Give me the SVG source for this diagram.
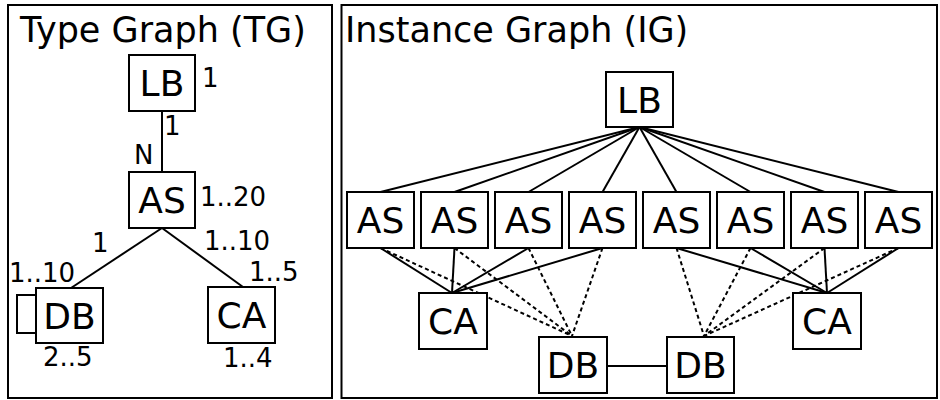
<svg xmlns="http://www.w3.org/2000/svg" width="940" height="400" viewBox="0 0 940 400">
<style>
text{font-family:"DejaVu Sans",sans-serif;fill:#000}
.title{font-size:35px}
.lbl{font-size:36px;text-anchor:middle}
.m{font-size:26px}
.box{fill:#fff;stroke:#000;stroke-width:2}
.panel{fill:#fff;stroke:#000;stroke-width:2}
.e{stroke:#000;stroke-width:2;fill:none}
.d{stroke:#000;stroke-width:2;fill:none;stroke-dasharray:4 3}
</style>
<rect class="panel" x="8" y="5" width="324" height="393"/>
<rect class="panel" x="341.5" y="5" width="595.5" height="393"/>
<text class="title" x="20" y="42">Type Graph (TG)</text>
<text class="title" x="345" y="42">Instance Graph (IG)</text>
<g id="connectors">
<line class="e" x1="162" y1="111" x2="162" y2="172"/>
<line class="e" x1="162" y1="228" x2="71" y2="288"/>
<line class="e" x1="162" y1="228" x2="243" y2="287"/>
<polyline class="e" points="36,295 17,295 17,333 36,333"/>
<line class="e" x1="639.5" y1="127" x2="380.5" y2="192"/>
<line class="e" x1="639.5" y1="127" x2="454.5" y2="192"/>
<line class="e" x1="639.5" y1="127" x2="528.5" y2="192"/>
<line class="e" x1="639.5" y1="127" x2="602.5" y2="192"/>
<line class="e" x1="639.5" y1="127" x2="676.5" y2="192"/>
<line class="e" x1="639.5" y1="127" x2="750.5" y2="192"/>
<line class="e" x1="639.5" y1="127" x2="824.5" y2="192"/>
<line class="e" x1="639.5" y1="127" x2="898.5" y2="192"/>
<line class="e" x1="380.5" y1="248" x2="452" y2="293"/>
<line class="e" x1="454.5" y1="248" x2="452" y2="293"/>
<line class="e" x1="528.5" y1="248" x2="452" y2="293"/>
<line class="e" x1="602.5" y1="248" x2="452" y2="293"/>
<line class="d" x1="380.5" y1="248" x2="572" y2="336"/>
<line class="d" x1="454.5" y1="248" x2="572" y2="336"/>
<line class="d" x1="528.5" y1="248" x2="572" y2="336"/>
<line class="d" x1="602.5" y1="248" x2="572" y2="336"/>
<line class="e" x1="676.5" y1="248" x2="827" y2="293"/>
<line class="e" x1="750.5" y1="248" x2="827" y2="293"/>
<line class="e" x1="824.5" y1="248" x2="827" y2="293"/>
<line class="e" x1="898.5" y1="248" x2="827" y2="293"/>
<line class="d" x1="676.5" y1="248" x2="704" y2="336"/>
<line class="d" x1="750.5" y1="248" x2="704" y2="336"/>
<line class="d" x1="824.5" y1="248" x2="704" y2="336"/>
<line class="d" x1="898.5" y1="248" x2="704" y2="336"/>
<line class="e" x1="607" y1="366" x2="667" y2="366"/>
</g>
<g id="tg-lb"><rect class="box" x="129" y="55" width="66" height="56"/><text class="lbl" x="162" y="96">LB</text></g>
<g id="tg-as"><rect class="box" x="129" y="172" width="66" height="56"/><text class="lbl" x="162" y="213">AS</text></g>
<g id="tg-db"><rect class="box" x="36" y="288" width="67" height="55"/><text class="lbl" x="69.5" y="329">DB</text></g>
<g id="tg-ca"><rect class="box" x="208" y="287" width="67" height="56"/><text class="lbl" x="241.5" y="328">CA</text></g>
<g id="tg-labels">
<text class="m" x="202" y="87">1</text>
<text class="m" x="164" y="135">1</text>
<text class="m" x="134" y="164">N</text>
<text class="m" x="200" y="206">1..20</text>
<text class="m" x="92" y="252">1</text>
<text class="m" x="204" y="250">1..10</text>
<text class="m" x="9" y="282">1..10</text>
<text class="m" x="249" y="281">1..5</text>
<text class="m" x="43" y="366">2..5</text>
<text class="m" x="223" y="367">1..4</text>
</g>
<g id="ig-lb"><rect class="box" x="606" y="72" width="67" height="55"/><text class="lbl" x="639.5" y="113">LB</text></g>
<g id="ig-as1"><rect class="box" x="347" y="192" width="67" height="56"/><text class="lbl" x="380.5" y="233">AS</text></g>
<g id="ig-as2"><rect class="box" x="421" y="192" width="67" height="56"/><text class="lbl" x="454.5" y="233">AS</text></g>
<g id="ig-as3"><rect class="box" x="495" y="192" width="67" height="56"/><text class="lbl" x="528.5" y="233">AS</text></g>
<g id="ig-as4"><rect class="box" x="569" y="192" width="67" height="56"/><text class="lbl" x="602.5" y="233">AS</text></g>
<g id="ig-as5"><rect class="box" x="643" y="192" width="67" height="56"/><text class="lbl" x="676.5" y="233">AS</text></g>
<g id="ig-as6"><rect class="box" x="717" y="192" width="67" height="56"/><text class="lbl" x="750.5" y="233">AS</text></g>
<g id="ig-as7"><rect class="box" x="791" y="192" width="67" height="56"/><text class="lbl" x="824.5" y="233">AS</text></g>
<g id="ig-as8"><rect class="box" x="865" y="192" width="67" height="56"/><text class="lbl" x="898.5" y="233">AS</text></g>
<g id="ig-ca1"><rect class="box" x="419" y="293" width="68" height="56"/><text class="lbl" x="453" y="334">CA</text></g>
<g id="ig-db1"><rect class="box" x="539" y="337" width="68" height="56"/><text class="lbl" x="573" y="378">DB</text></g>
<g id="ig-db2"><rect class="box" x="667" y="337" width="67" height="56"/><text class="lbl" x="700.5" y="378">DB</text></g>
<g id="ig-ca2"><rect class="box" x="793" y="293" width="68" height="56"/><text class="lbl" x="827" y="334">CA</text></g>
</svg>
